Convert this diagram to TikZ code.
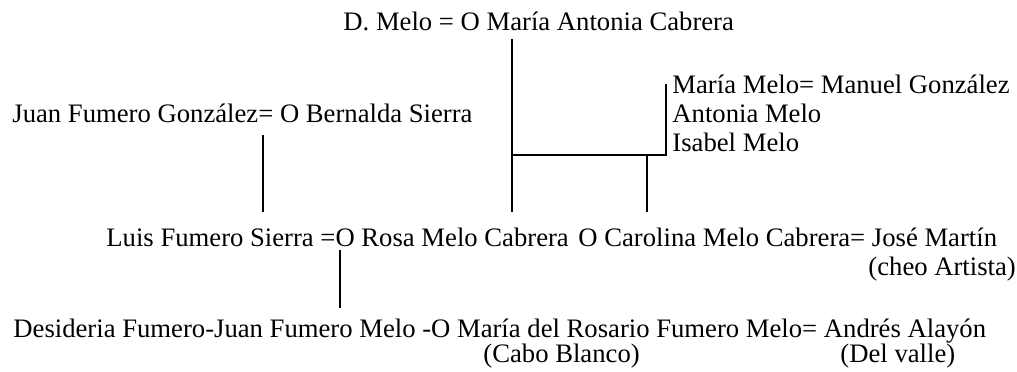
\documentclass[tikz,border=0pt]{standalone}
\usepackage{fontspec}
\setmainfont{Liberation Serif}
\usetikzlibrary{backgrounds}

\tikzset{
  kin/.style={anchor=base west,inner sep=0pt,font=\fontsize{12pt}{13pt}\selectfont},
  link/.style={line width=0.7pt}
}

\begin{document}
\begin{tikzpicture}[x=0.45pt,y=-0.45pt]
\useasboundingbox (0,0) rectangle (1017,372);
\node[kin] (melo) at (343,31) {D. Melo = O María Antonia Cabrera};
\node[kin] (juan) at (12,123) {Juan Fumero González= O Bernalda Sierra};
\node[kin] (maria) at (672,94) {María Melo= Manuel González};
\node[kin] (antonia) at (672,123) {Antonia Melo};
\node[kin] (isabel) at (672,152) {Isabel Melo};
\node[kin] (luis) at (106,247) {Luis Fumero Sierra =O Rosa Melo Cabrera};
\node[kin] (carolina) at (578,247) {O Carolina Melo Cabrera= José Martín};
\node[kin] (cheo) at (868,276) {(cheo Artista)};
\node[kin] (desideria) at (13,338) {Desideria Fumero-Juan Fumero Melo -O María del Rosario Fumero Melo= Andrés Alayón};
\node[kin] (cabo) at (483,363) {(Cabo Blanco)};
\node[kin] (valle) at (840,363) {(Del valle)};
\coordinate (meloleg) at (512,39);
\coordinate (fork) at (512,155);
\coordinate (rosaleg) at (512,212);
\coordinate (sistop) at (666,84);
\coordinate (sisfoot) at (666,155);
\coordinate (caroknee) at (647,155);
\coordinate (caroleg) at (647,212);
\coordinate (juanleg) at (263,135);
\coordinate (luisleg) at (263,212);
\coordinate (rosatop) at (340,250);
\coordinate (childleg) at (340,308);
\draw[link] (meloleg) -- (rosaleg);
\draw[link] (fork) -- (sisfoot) -- (sistop);
\draw[link] (caroknee) -- (caroleg);
\draw[link] (juanleg) -- (luisleg);
\draw[link] (rosatop) -- (childleg);
\end{tikzpicture}
\end{document}
